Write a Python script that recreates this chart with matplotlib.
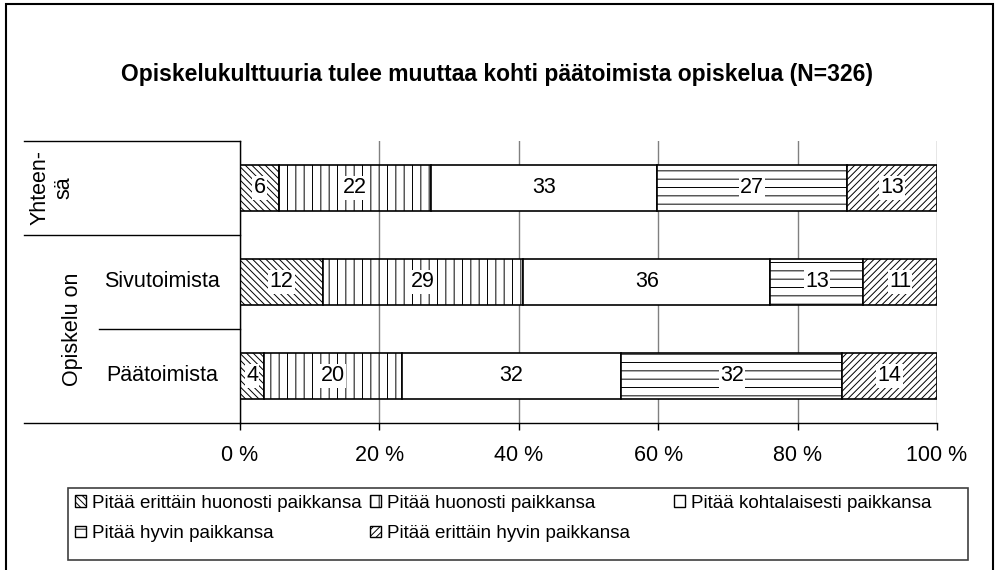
#! /usr/bin/env python3

import matplotlib
matplotlib.use("Agg")
import matplotlib.pyplot as plt
from matplotlib.patches import Patch, Rectangle
from matplotlib.transforms import blended_transform_factory
from matplotlib.ticker import FuncFormatter

plt.rcParams['font.family'] = ['Liberation Sans', 'DejaVu Sans']
plt.rcParams['hatch.linewidth'] = 0.7

title = "Opiskelukulttuuria tulee muuttaa kohti päätoimista opiskelua (N=326)"
categories = [
    "Pitää erittäin huonosti paikkansa",
    "Pitää huonosti paikkansa",
    "Pitää kohtalaisesti paikkansa",
    "Pitää hyvin paikkansa",
    "Pitää erittäin hyvin paikkansa",
]
row_names = ["Yhteensä", "Sivutoimista", "Päätoimista"]

# Osuudet (%) luettu palkkien pituuksista
share_yhteensa = [5.6, 21.8, 32.4, 27.3, 12.9]
share_sivutoimista = [11.9, 28.7, 35.5, 13.3, 10.6]
share_paatoimista = [3.5, 19.7, 31.5, 31.7, 13.6]

# Palkeissa näkyvät arvot
label_yhteensa = [6, 22, 33, 27, 13]
label_sivutoimista = [12, 29, 36, 13, 11]
label_paatoimista = [4, 20, 32, 32, 14]

shares = [share_yhteensa, share_sivutoimista, share_paatoimista]
labels = [label_yhteensa, label_sivutoimista, label_paatoimista]

hatches = ['\\\\\\\\\\', '||', '', '--', '/////']


def main():
    fig = plt.figure(figsize=(10, 5.7), dpi=100)
    ax = fig.add_axes([0.24, 0.258, 0.697, 0.495])

    for i, (row_share, row_label) in enumerate(zip(shares, labels)):
        left = 0
        for j, (s, lab) in enumerate(zip(row_share, row_label)):
            ax.barh(i, s, left=left, height=0.49, color='white',
                    edgecolor='black', linewidth=1.2, hatch=hatches[j], zorder=2)
            ax.text(left + s / 2, i, str(lab), ha='center', va='center',
                    fontsize=15.5, zorder=3,
                    bbox=dict(facecolor='white', edgecolor='none', pad=1))
            left += s

    ax.set_xlim(0, 100)
    ax.set_ylim(2.5, -0.5)
    ax.set_xticks(range(0, 101, 20))
    ax.xaxis.set_major_formatter(FuncFormatter(lambda v, p: f"{v:.0f} %"))
    ax.set_yticks([])
    ax.tick_params(axis='x', length=5, width=1, pad=11, labelsize=15.5)
    ax.xaxis.grid(True, color='#808080', linewidth=1)
    ax.set_axisbelow(True)
    for side in ('top', 'right'):
        ax.spines[side].set_visible(False)
    ax.spines['left'].set_linewidth(1)
    ax.spines['bottom'].set_linewidth(1)

    # Luokka-akselin ryhmittely vasemmalla
    trans = blended_transform_factory(ax.transAxes, ax.transData)
    line_kw = dict(transform=trans, clip_on=False, color='black', linewidth=1)
    ax.plot([-0.31, 0], [-0.5, -0.5], **line_kw)
    ax.plot([-0.31, 0], [0.5, 0.5], **line_kw)
    ax.plot([-0.202, 0], [1.5, 1.5], **line_kw)
    ax.plot([-0.31, 0], [2.5, 2.5], **line_kw)

    ax.text(-0.27, 0, "Yhteen-\nsä", transform=trans, rotation=90,
            ha='center', va='center', multialignment='center', fontsize=15.5)
    ax.text(-0.241, 1.5, "Opiskelu on", transform=trans, rotation=90,
            ha='center', va='center', fontsize=15.5)
    ax.text(-0.112, 1, row_names[1], transform=trans,
            ha='center', va='center', fontsize=15.5)
    ax.text(-0.112, 2, row_names[2], transform=trans,
            ha='center', va='center', fontsize=15.5)

    fig.text(0.497, 1 - 75 / 570, title, ha='center', va='center',
             fontsize=16.5, fontweight='bold')

    # Selite: kolme saraketta omina selitteinään, yhteinen kehys
    fig.patches.append(Rectangle((0.068, 1 - 560 / 570), 0.9, 72 / 570,
                                 transform=fig.transFigure, fill=False,
                                 edgecolor='#404040', linewidth=1.2))
    columns = [[0, 3], [1, 4], [2]]
    col_x = [75, 370, 674]
    for items, x in zip(columns, col_x):
        handles = [Patch(facecolor='white', edgecolor='black', hatch=hatches[k],
                         label=categories[k]) for k in items]
        fig.legend(handles=handles, loc='upper left',
                   bbox_to_anchor=(x / 1000, 1 - 495 / 570),
                   fontsize=13.5, frameon=False, borderaxespad=0, borderpad=0,
                   handlelength=0.6, handleheight=0.6, handletextpad=0.3,
                   labelspacing=0.7)

    fig.patches.append(Rectangle((0.006, -0.05), 0.987, 1.043,
                                 transform=fig.transFigure, fill=False,
                                 edgecolor='black', linewidth=1.5))

    fig.savefig('out.png', dpi=100)


if __name__ == '__main__':
    main()
